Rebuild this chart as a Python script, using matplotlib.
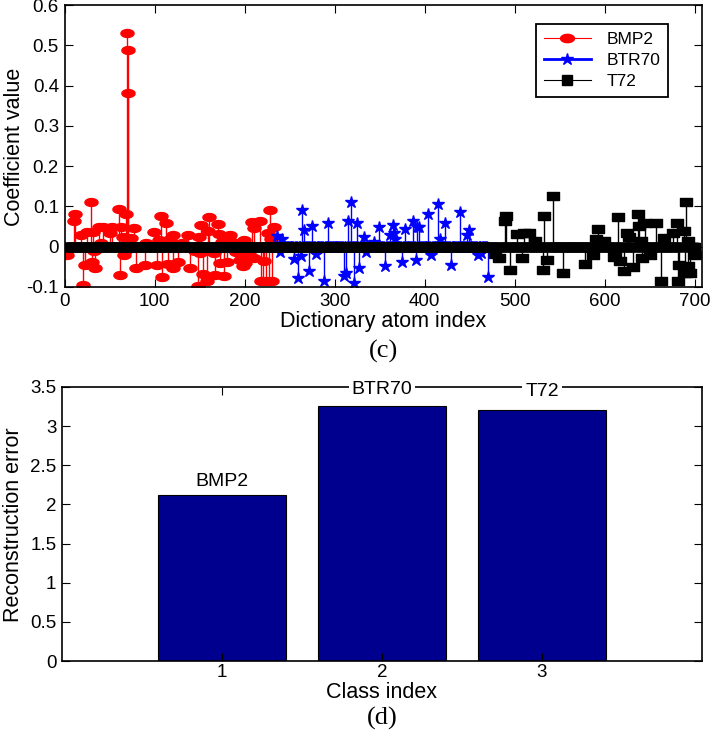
import numpy as np
import matplotlib
matplotlib.use("Agg")
import matplotlib.pyplot as plt
from matplotlib.lines import Line2D
from matplotlib.legend_handler import HandlerLine2D

plt.rcParams['font.family'] = ['Liberation Sans', 'DejaVu Sans']

# ---- (c) sparse coefficients, one list per class (atom index, value) ----
n_atoms = 700
bmp2_idx = [1, 3, 11, 12, 18, 20, 23, 25, 29, 31, 32, 33, 34, 38, 40, 43, 50, 53,
            60, 62, 63, 65, 66, 67, 68, 69, 70, 71, 74, 77, 79, 89, 90, 99, 103,
            105, 107, 108, 113, 115, 117, 120, 121, 126, 130, 137, 139, 145, 148,
            149, 150, 152, 154, 158, 159, 161, 166, 167, 171, 172, 173, 175, 177,
            181, 184, 186, 190, 191, 195, 198, 199, 200, 201, 205, 208, 210, 211,
            217, 218, 221, 222, 224, 226, 227, 228, 229, 230, 233]
bmp2_val = [-0.02, -0.02, 0.065, 0.081, 0.030, -0.095, -0.045, 0.036, 0.112, -0.037,
            0.036, -0.010, -0.053, 0.050, 0.010, 0.050, 0.034, 0.048,
            0.094, -0.070, 0.050, 0.025, -0.020, -0.011, 0.081, 0.531, 0.488, 0.381,
            0.022, 0.046, -0.054, -0.046, 0.008, 0.036, -0.046,
            0.017, 0.077, -0.075, 0.059, -0.043, 0.020, 0.030, -0.054, -0.039, 0.010,
            0.030, -0.053, -0.010, -0.097,
            0.025, -0.015, 0.053, -0.067, -0.085, 0.038, 0.074, -0.015, -0.070, 0.056,
            0.031, -0.041, 0.012, -0.072,
            -0.037, 0.030, 0.011, 0.010, -0.013, -0.032, -0.049, 0.016, -0.040, -0.028,
            -0.012, 0.062, 0.046, -0.028,
            0.063, -0.084, -0.084, -0.036, -0.084, 0.034, -0.084, 0.090, 0.019, -0.084,
            0.048]

btr70_idx = [236, 239, 241, 255, 259, 263, 264, 266, 272, 275, 279, 288, 293, 310,
             313, 315, 318, 321, 325, 327, 333, 335, 344, 349, 356, 361, 365, 366,
             367, 375, 378, 387, 390, 391, 394, 404, 407, 415, 417, 423, 429, 439,
             447, 449, 459, 463, 470]
btr70_val = [0.026, -0.012, 0.019, -0.030, -0.078, -0.022, 0.090, 0.041, -0.061, 0.052,
             -0.018, -0.086, 0.060, -0.072,
             -0.065, 0.065, 0.111, -0.090, 0.060, -0.053, 0.023, -0.014, 0.012, 0.048,
             -0.047, 0.030, 0.055, 0.035,
             0.020, -0.039, 0.044, 0.065, -0.034, 0.050, 0.050, 0.080, -0.020, 0.107,
             0.020, 0.058, -0.045, 0.086,
             0.030, 0.041, -0.020, -0.016, -0.076]

t72_idx = [478, 482, 489, 490, 495, 502, 508, 510, 516, 523, 531, 532, 536, 543,
           554, 578, 587, 590, 592, 599, 610, 611, 615, 617, 621, 625, 627, 631,
           637, 638, 640, 641, 645, 650, 657, 663, 666, 676, 680, 681, 682, 688,
           689, 690, 692, 693, 695, 700]
t72_val = [-0.018, -0.028, 0.063, 0.077, -0.059, 0.032, -0.027, 0.033, 0.033, 0.013,
           -0.059, 0.075, -0.034, 0.125,
           -0.065, -0.042, -0.020, 0.018, 0.044, 0.013, -0.026, -0.018, 0.073, -0.035,
           -0.060, 0.035, 0.024, -0.050,
           0.082, 0.052, 0.013, -0.028, 0.059, -0.020, 0.060, -0.084, 0.022, 0.035,
           0.059, -0.086, -0.045, 0.040,
           -0.066, 0.110, -0.048, 0.013, -0.066, -0.020]

class_names = ['BMP2', 'BTR70', 'T72']

# ---- (d) reconstruction error per class ----
class_index = [1, 2, 3]
recon_err = [2.12, 3.26, 3.21]

atoms = np.arange(1, n_atoms + 1)
c_bmp2 = np.zeros(n_atoms)
c_bmp2[np.array(bmp2_idx) - 1] = bmp2_val
c_btr70 = np.zeros(n_atoms)
c_btr70[np.array(btr70_idx) - 1] = btr70_val
c_t72 = np.zeros(n_atoms)
c_t72[np.array(t72_idx) - 1] = t72_val

t = np.linspace(0, 2 * np.pi, 30)
ellipse = list(zip(np.cos(t), 0.6 * np.sin(t)))
rect = [(-1, -0.62), (1, -0.62), (1, 0.62), (-1, 0.62), (-1, -0.62)]


class EndMarker(HandlerLine2D):
    # matlab style legend: marker sits at the right end of the line
    def get_xdata(self, legend, xdescent, ydescent, width, height, fontsize):
        return [-xdescent, -xdescent + width], [-xdescent + width - 4]


fig = plt.figure(figsize=(7.11, 7.32), dpi=100)
ax1 = fig.add_axes([64.5 / 711, 1 - 287 / 732, 637.5 / 711, 282 / 732])
ax2 = fig.add_axes([62 / 711, 1 - 661 / 732, 640 / 711, 274 / 732])

# red stems: first class block only
m1 = atoms <= 233
ml, sl, bl = ax1.stem(atoms[m1], c_bmp2[m1], linefmt='r-', basefmt=' ')
ml.set_marker(ellipse); ml.set_markersize(9.5); ml.set_color('red')
sl.set_linewidth(1.0)

m2 = (atoms > 233) & (atoms <= 470)
ml, sl, bl = ax1.stem(atoms[m2], c_btr70[m2], linefmt='b-', basefmt=' ')
ml.set_marker('*'); ml.set_markersize(9); ml.set_color('blue')
sl.set_linewidth(1.0)

ml, sl, bl = ax1.stem(atoms, c_t72, linefmt='k-', basefmt='k-')
ml.set_marker(rect); ml.set_markersize(8.3); ml.set_color('black')
sl.set_linewidth(1.0)

ax1.set_xlim(0, 708)
ax1.set_ylim(-0.1, 0.6)
ax1.set_xticks(np.arange(0, 701, 100))
ax1.set_yticks(np.round(np.arange(-0.1, 0.61, 0.1), 1))
ax1.set_yticklabels(['-0.1', '0', '0.1', '0.2', '0.3', '0.4', '0.5', '0.6'])

handles = [Line2D([], [], color='red', lw=0.8, marker=ellipse, ms=10),
           Line2D([], [], color='blue', lw=2.0, marker='*', ms=9),
           Line2D([], [], color='black', lw=0.8, marker='s', ms=7)]
leg = ax1.legend(handles, class_names, loc='upper right',
                 bbox_to_anchor=(0.947, 0.933), borderaxespad=0, fontsize=12.5,
                 handlelength=2.7, handletextpad=0.9, labelspacing=0.35,
                 borderpad=0.45, fancybox=False, framealpha=1,
                 handler_map={Line2D: EndMarker()})
leg.get_frame().set_edgecolor('black')
leg.get_frame().set_linewidth(1.3)

# bars
ax2.bar(class_index, recon_err, width=0.8, color='#00008f', edgecolor='black',
        linewidth=0.8)
label_y = [2.29, 3.47, 3.44]
for xi, yi, name in zip(class_index, label_y, class_names):
    ax2.text(xi, yi, name, ha='center', va='center', fontsize=14,
             bbox=dict(facecolor='white', edgecolor='none', pad=2))
ax2.set_xlim(0, 4)
ax2.set_ylim(0, 3.5)
ax2.set_xticks(class_index)
ax2.set_yticks(np.arange(0, 3.51, 0.5))
ax2.set_yticklabels(['0', '0.5', '1', '1.5', '2', '2.5', '3', '3.5'])

for ax in (ax1, ax2):
    ax.tick_params(direction='in', top=True, right=True, length=5.5, width=0.8,
                   labelsize=13.5, pad=4)
    for s in ax.spines.values():
        s.set_linewidth(1.2)
ax2.tick_params(axis='x', pad=2.5)

fig.text(15 / 711, 1 - 147 / 732, 'Coefficient value', rotation=90,
         ha='center', va='center', fontsize=15.5)
fig.text(383 / 711, 1 - 322 / 732, 'Dictionary atom index', ha='center',
         va='center', fontsize=15.5)
fig.text(383 / 711, 1 - 351 / 732, '(c)', ha='center', va='center',
         fontsize=19, family='Liberation Serif')
fig.text(14 / 711, 1 - 525 / 732, 'Reconstruction error', rotation=90,
         ha='center', va='center', fontsize=15.5)
fig.text(382 / 711, 1 - 693 / 732, 'Class index', ha='center', va='center',
         fontsize=15.5)
fig.text(382 / 711, 1 - 718 / 732, '(d)', ha='center', va='center',
         fontsize=19, family='Liberation Serif')

fig.savefig('out.png', dpi=100)
